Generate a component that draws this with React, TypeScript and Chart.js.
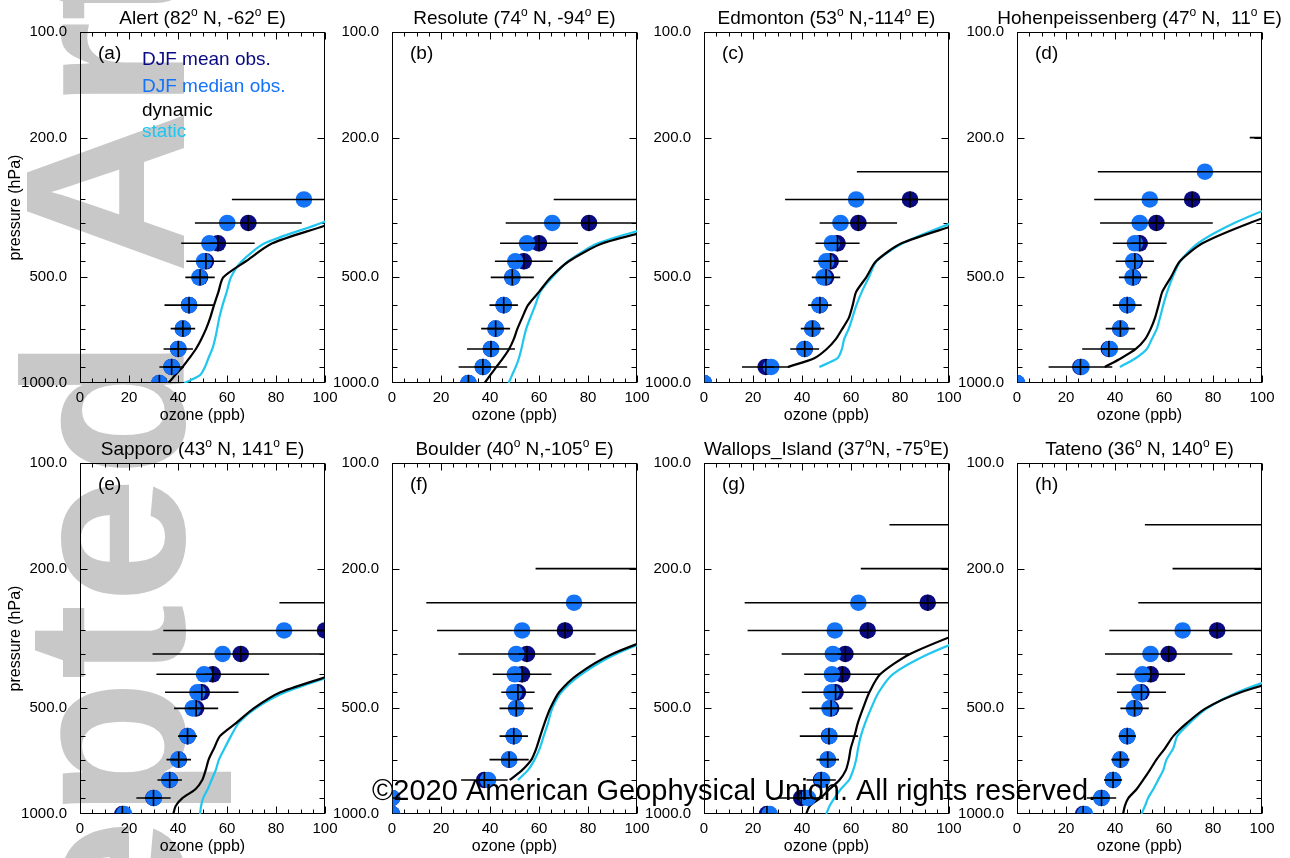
import React, { useEffect, useRef } from "react";
import { Chart, registerables } from "chart.js";

Chart.register(...registerables);

const W = 1290;
const H = 858;
const FONT = "'Liberation Sans', Arial, Helvetica, sans-serif";
const DARK = "#0a0a82";
const LIGHT = "#1473f7";
const CYAN = "#1ec6f0";
const GREY = "#c8c8c8";

// ---------- data ----------
const OBS_P = [150, 200, 250, 300, 350, 400, 450, 500, 600, 700, 800, 900, 1000];
const LINE_P = [1000, 950, 900, 850, 800, 750, 700, 650, 600, 550, 500, 450, 400, 350, 300];
const X_TICKS = [0, 20, 40, 60, 80, 100];
const Y_TICKS = [100, 200, 500, 1000];
const Y_MINOR = [200, 300, 350, 400, 450, 500, 600, 700, 800, 900];

// (a) Alert
const alertMean = [null, null, null, 105, 68.7, 56.3, 51.4, 49, 44.5, 42, 40.1, 37.4, 32.4];
const alertMedian = [null, null, null, 91.4, 60.1, 52.8, 50.6, 48.7, 44.5, 42, 40.1, 37.4, 32.4];
const alertSd = [null, null, null, 43, 21.8, 15, 8, 6, 10, 5, 6, 5, 3];
const alertDyn = [36.1, 38.8, 41.9, 44.6, 47.3, 49.5, 51.5, 53.2, 54.7, 56.5, 58.5, 67.7, 78.5, 103, 125];
const alertSta = [42.6, 49, 51, 52.4, 54, 55.1, 56, 56.9, 58.2, 59.9, 61.6, 66, 75.4, 98.5, 120];

// (b) Resolute
const resoluteMean = [null, null, null, 110, 80.4, 60, 53.8, 49.1, 45.6, 42.3, 40.4, 37.1, 31.2];
const resoluteMedian = [null, null, null, 106, 65.4, 55.1, 50.3, 49.1, 45.6, 42.3, 40.4, 37.1, 31.2];
const resoluteSd = [null, null, null, 44, 34, 15.9, 11.8, 8.8, 5.8, 5.9, 9.8, 9.9, 10];
const resoluteDyn = [37.8, 40.1, 42.6, 45.3, 47.8, 49.7, 51.2, 53.2, 55.5, 60, 64.8, 72.2, 86.1, 117, 140];
const resoluteSta = [47.6, 49, 50.5, 51.8, 52.8, 53.7, 54.8, 56.5, 58.5, 60.5, 65.4, 71.8, 84.1, 111, 135];

// (c) Edmonton
const edmontonMean = [null, null, 108, 84.1, 63, 54.5, 51.7, 49.8, 47.3, 44.3, 41.1, 25.2, 0];
const edmontonMedian = [null, null, 104, 62.1, 55.7, 52.2, 49.9, 48.8, 47.1, 44.2, 41, 27.4, 0];
const edmontonSd = [null, null, 45.6, 51, 15.8, 9, 7, 5.8, 4.8, 4.8, 5.9, 9.7, 0];
const edmontonDyn = [null, null, 34.2, 45, 50.1, 53.8, 56.5, 59.2, 60.7, 62.1, 66.2, 70.2, 80.6, 105, 130];
const edmontonSta = [null, null, 47.1, 54.5, 56.3, 57.2, 59.1, 60.6, 62.2, 64.4, 67.3, 70.4, 81.1, 101, 125];

// (d) Hohenpeissenberg
const hohenMean = [null, 110, 106, 71.5, 56.9, 50.1, 48.1, 47.4, 45, 42.2, 37.5, 25.9, 0];
const hohenMedian = [null, 107, 76.7, 54.2, 50.1, 48.1, 47.4, 47.1, 45, 42.2, 37.9, 26.3, 0];
const hohenSd = [null, 15, 73, 40, 23, 11, 7.8, 5.8, 5.9, 6, 10.9, 13, 0];
const hohenDyn = [null, null, 35.8, 42.5, 48.5, 52.3, 54.6, 56.4, 57.8, 59.3, 62.8, 66.5, 75.7, 95, 122];
const hohenSta = [null, null, 42, 48.4, 53, 55, 57.1, 58.4, 59.7, 61.3, 63.5, 66.6, 73.8, 88.7, 111.6];

// (e) Sapporo
const sapporoMean = [null, null, 110, 100, 65.6, 54.2, 49.7, 47.4, 43.9, 40.3, 36.6, 30, 17.3];
const sapporoMedian = [null, null, 106, 83.3, 58.2, 50.6, 47.9, 46, 43.9, 40.1, 36.5, 30.2, 18];
const sapporoSd = [null, null, 28.6, 66, 36, 23, 15, 9, 3.9, 5, 5, 7, 2];
const sapporoDyn = [38.1, 39, 41.9, 47.1, 49.9, 51.3, 52.5, 54.7, 57.1, 63.8, 70.9, 81.8, 104, 130, 150];
const sapporoSta = [49, 49.4, 50.3, 52.1, 53.7, 55.4, 56.7, 59, 61.6, 64.8, 71.7, 83.7, 105, 130, 150];

// (f) Boulder
const boulderMean = [null, 112, 106, 70.6, 55.1, 53.1, 51.4, 50.7, 49.7, 47.8, 37.7, 0, 0];
const boulderMedian = [null, 108, 74.3, 53.1, 50.7, 50.1, 49.8, 50.7, 49.7, 47.8, 39.2, 0, 0];
const boulderSd = [null, 53.4, 92, 52.2, 28, 12, 6.8, 6.8, 5.8, 8, 9.5, 0, 0];
const boulderDyn = [null, null, null, null, 48, 53.1, 56.9, 58.9, 60.5, 62.3, 64.6, 68.2, 75.9, 89.9, 114.7];
const boulderSta = [null, null, null, null, 51.4, 55.5, 58.2, 60.3, 61.9, 63.7, 65.4, 69.1, 77.3, 91.4, 115];

// (g) Wallops Island
const wallopsMean = [115, 112, 91.3, 66.8, 57.7, 56.5, 53.7, 51.9, 51, 50.5, 47.8, 39.7, 25.7];
const wallopsMedian = [110, 108, 63, 53.4, 52.6, 52.2, 52, 51.2, 51.2, 50.5, 48.2, 42.4, 26.8];
const wallopsSd = [39.3, 48, 74.7, 49, 26, 15.6, 13.8, 8.8, 11.9, 4.6, 6, 9, 8];
const wallopsDyn = [41.7, 43.1, 47.6, 51.2, 55.3, 57.9, 59.1, 59.9, 61.4, 62.8, 64.9, 67.5, 71.9, 84.1, 106.9];
const wallopsSta = [49.9, 51.2, 53.3, 55.8, 59.2, 60.9, 62.1, 62.9, 64, 65.8, 68.2, 71.3, 77, 91.6, 115];

// (h) Tateno
const tatenoMean = [115, 112, 108, 81.7, 61.9, 54.6, 50.8, 48, 45, 42.2, 39.2, 34.5, 27];
const tatenoMedian = [110, 108, 104, 67.6, 54.5, 51.2, 49.9, 47.7, 45, 42.2, 39.2, 34.5, 27.7];
const tatenoSd = [62.8, 48.5, 58.5, 44, 26, 14, 10, 5.8, 3.5, 3.7, 3.7, 6, 2];
const tatenoDyn = [43.3, 44, 45.5, 48.8, 51.5, 54.2, 56.9, 60.4, 63.8, 69.4, 77, 91.4, 115.7, 140, 160];
const tatenoSta = [50.8, 52.2, 53.5, 55.6, 57.6, 59.7, 61, 63.8, 65.4, 70.5, 77.5, 90, 110, 135, 155];

const LEGEND = [
  { text: "DJF mean obs.", color: DARK },
  { text: "DJF median obs.", color: LIGHT },
  { text: "dynamic", color: "#000" },
  { text: "static", color: CYAN },
];

const PANELS = [
  { title: "Alert (82^o N, -62^o E)", tag: "(a)", col: 0, row: 0, mean: alertMean, median: alertMedian, sd: alertSd, dyn: alertDyn, sta: alertSta },
  { title: "Resolute (74^o N, -94^o E)", tag: "(b)", col: 1, row: 0, mean: resoluteMean, median: resoluteMedian, sd: resoluteSd, dyn: resoluteDyn, sta: resoluteSta },
  { title: "Edmonton (53^o N,-114^o E)", tag: "(c)", col: 2, row: 0, mean: edmontonMean, median: edmontonMedian, sd: edmontonSd, dyn: edmontonDyn, sta: edmontonSta },
  { title: "Hohenpeissenberg (47^o N,  11^o E)", tag: "(d)", col: 3, row: 0, mean: hohenMean, median: hohenMedian, sd: hohenSd, dyn: hohenDyn, sta: hohenSta },
  { title: "Sapporo (43^o N, 141^o E)", tag: "(e)", col: 0, row: 1, mean: sapporoMean, median: sapporoMedian, sd: sapporoSd, dyn: sapporoDyn, sta: sapporoSta },
  { title: "Boulder (40^o N,-105^o E)", tag: "(f)", col: 1, row: 1, mean: boulderMean, median: boulderMedian, sd: boulderSd, dyn: boulderDyn, sta: boulderSta },
  { title: "Wallops_Island (37^oN, -75^oE)", tag: "(g)", col: 2, row: 1, mean: wallopsMean, median: wallopsMedian, sd: wallopsSd, dyn: wallopsDyn, sta: wallopsSta },
  { title: "Tateno (36^o N, 140^o E)", tag: "(h)", col: 3, row: 1, mean: tatenoMean, median: tatenoMedian, sd: tatenoSd, dyn: tatenoDyn, sta: tatenoSta },
];

// ---------- layout ----------
const COL_LEFT = [80, 392, 704, 1017];
const ROW_TOP = [32, 463];
const PW = 245;
const PH = 351;
const YW = 60;
const XH = 40;
const LEGEND_Y = [33, 60, 84, 105];

function drawRich(ctx: CanvasRenderingContext2D, str: string, cx: number, baseY: number, size: number) {
  const parts = str.split("^o");
  const segs: { t: string; sup: boolean; w?: number }[] = [];
  parts.forEach((p, i) => {
    if (i > 0) segs.push({ t: "o", sup: true });
    segs.push({ t: p, sup: false });
  });
  const fBase = `${size}px ${FONT}`;
  const fSup = `${Math.round(size * 0.62)}px ${FONT}`;
  let total = 0;
  segs.forEach((s) => {
    ctx.font = s.sup ? fSup : fBase;
    s.w = ctx.measureText(s.t).width;
    total += s.w;
  });
  let x = cx - total / 2;
  ctx.textAlign = "left";
  ctx.textBaseline = "alphabetic";
  segs.forEach((s) => {
    ctx.font = s.sup ? fSup : fBase;
    ctx.fillText(s.t, x, s.sup ? baseY - size * 0.4 : baseY);
    x += s.w || 0;
  });
}

function drawWatermark(ctx: CanvasRenderingContext2D) {
  ctx.save();
  ctx.font = `bold 228px ${FONT}`;
  ctx.fillStyle = GREY;
  const pre = ctx.measureText("Accepted ").width;
  const aw = ctx.measureText("A").width;
  ctx.translate(184, 192 + pre + aw / 2);
  ctx.rotate(-Math.PI / 2);
  ctx.textAlign = "left";
  ctx.textBaseline = "alphabetic";
  ctx.fillText("Accepted Article", 0, 0);
  ctx.restore();
}

function drawCopyright(ctx: CanvasRenderingContext2D) {
  ctx.save();
  ctx.font = `29px ${FONT}`;
  ctx.fillStyle = "#000";
  ctx.textAlign = "left";
  ctx.textBaseline = "alphabetic";
  ctx.fillText("\u00A92020 American Geophysical Union. All rights reserved.", 372, 800);
  ctx.restore();
}

function seg(ctx: CanvasRenderingContext2D, x1: number, y1: number, x2: number, y2: number) {
  ctx.beginPath();
  ctx.moveTo(x1, y1);
  ctx.lineTo(x2, y2);
  ctx.stroke();
}

function makeConfig(panel: any, idx: number): any {
  const L = COL_LEFT[panel.col];
  const T = ROW_TOP[panel.row];
  const pts = (vals: (number | null)[]) =>
    OBS_P.map((p, i) => ({ x: vals[i], y: p })).filter((d) => d.x !== null);
  const line = (vals: (number | null)[]) =>
    LINE_P.map((p, i) => ({ x: vals[i], y: p })).filter((d) => d.x !== null);
  const bars: any[] = [];
  OBS_P.forEach((p, i) => {
    const m = panel.mean[i];
    const s = panel.sd[i];
    if (m === null || s === null) return;
    bars.push({ x: m - s, y: p }, { x: m + s, y: p }, { x: null, y: null });
  });

  const decor = {
    id: "decor" + idx,
    beforeDraw(chart: any) {
      if (idx === 0) drawWatermark(chart.ctx);
    },
    beforeDatasetsDraw(chart: any) {
      const ctx = chart.ctx as CanvasRenderingContext2D;
      const { left, right, top, bottom } = chart.chartArea;
      const xs = chart.scales.x;
      const ys = chart.scales.y;
      ctx.save();
      ctx.strokeStyle = "#000";
      ctx.lineWidth = 1;
      const l = Math.round(left) + 0.5;
      const r = Math.round(right) - 0.5;
      const t = Math.round(top) + 0.5;
      const b = Math.round(bottom) - 0.5;
      ctx.strokeRect(l, t, r - l, b - t);
      for (let v = 0; v <= 100; v += 5) {
        const px = Math.round(xs.getPixelForValue(v)) + 0.5;
        const len = v % 20 === 0 ? 7 : 4;
        seg(ctx, px, b, px, b - len);
        seg(ctx, px, t, px, t + len);
      }
      Y_MINOR.forEach((p) => {
        const py = Math.round(ys.getPixelForValue(p)) + 0.5;
        const len = p === 200 || p === 500 ? 7 : 5;
        seg(ctx, l, py, l + len, py);
        seg(ctx, r, py, r - len, py);
      });
      ctx.restore();
    },
    afterDraw(chart: any) {
      const ctx = chart.ctx as CanvasRenderingContext2D;
      const { left, right, top, bottom } = chart.chartArea;
      const cx = (left + right) / 2;
      ctx.save();
      ctx.fillStyle = "#000";
      drawRich(ctx, panel.title, cx, top - 8, 19);
      ctx.font = `19px ${FONT}`;
      ctx.textAlign = "left";
      ctx.textBaseline = "alphabetic";
      ctx.fillText(panel.tag, left + 18, top + 27);
      ctx.font = `16px ${FONT}`;
      ctx.textAlign = "center";
      ctx.textBaseline = "middle";
      ctx.fillText("ozone (ppb)", cx, bottom + 33);
      if (panel.col === 0) {
        ctx.save();
        ctx.translate(16, (top + bottom) / 2);
        ctx.rotate(-Math.PI / 2);
        ctx.fillText("pressure (hPa)", 0, 0);
        ctx.restore();
      }
      if (idx === 0) {
        ctx.font = `19px ${FONT}`;
        ctx.textAlign = "left";
        ctx.textBaseline = "alphabetic";
        LEGEND.forEach((e, i) => {
          ctx.fillStyle = e.color;
          ctx.fillText(e.text, left + 62, top + LEGEND_Y[i]);
        });
      }
      ctx.restore();
      if (idx === PANELS.length - 1) drawCopyright(ctx);
    },
  };

  return {
    type: "scatter",
    data: {
      datasets: [
        { label: "static", data: line(panel.sta), showLine: true, borderColor: CYAN, borderWidth: 2.2, pointRadius: 0, tension: 0.25, order: 6, clip: 0 },
        { label: "dynamic", data: line(panel.dyn), showLine: true, borderColor: "#000", borderWidth: 2.2, pointRadius: 0, tension: 0.25, order: 5, clip: 0 },
        { label: "DJF mean obs.", data: pts(panel.mean), pointRadius: 8.3, pointBackgroundColor: DARK, pointBorderWidth: 0, order: 4, clip: 0 },
        { label: "DJF median obs.", data: pts(panel.median), pointRadius: 8.3, pointBackgroundColor: LIGHT, pointBorderWidth: 0, order: 3, clip: 0 },
        { label: "sd", data: bars, showLine: true, borderColor: "#000", borderWidth: 1.6, pointRadius: 0, spanGaps: false, order: 2, clip: 0 },
        { label: "mean mark", data: pts(panel.mean), pointStyle: "cross", pointRadius: 8, pointBorderColor: "#000", pointBorderWidth: 1.6, order: 1, clip: 0 },
      ],
    },
    options: {
      animation: false,
      responsive: false,
      maintainAspectRatio: false,
      devicePixelRatio: 1,
      events: [],
      layout: {
        padding: {
          left: L - YW,
          top: T,
          right: W - (L + PW),
          bottom: H - (T + PH) - XH,
        },
      },
      plugins: { legend: { display: false }, tooltip: { enabled: false }, title: { display: false } },
      scales: {
        x: {
          type: "linear",
          min: 0,
          max: 100,
          grid: { display: false, drawTicks: false },
          border: { display: false },
          afterFit: (s: any) => { s.height = XH; },
          afterBuildTicks: (s: any) => { s.ticks = X_TICKS.map((v) => ({ value: v })); },
          ticks: {
            autoSkip: false,
            maxRotation: 0,
            padding: 6,
            color: "#000",
            font: { family: FONT, size: 15 },
            callback: (v: any) => String(v),
          },
        },
        y: {
          type: "logarithmic",
          min: 100,
          max: 1000,
          reverse: true,
          grid: { display: false, drawTicks: false },
          border: { display: false },
          afterFit: (s: any) => { s.width = YW; },
          afterBuildTicks: (s: any) => { s.ticks = Y_TICKS.map((v) => ({ value: v })); },
          ticks: {
            autoSkip: false,
            padding: 13,
            color: "#000",
            font: { family: FONT, size: 15 },
            callback: (v: any) => Number(v).toFixed(1),
          },
        },
      },
    },
    plugins: [decor],
  };
}

export default function App() {
  const refs = useRef<(HTMLCanvasElement | null)[]>([]);
  useEffect(() => {
    const charts = PANELS.map((panel, i) => new Chart(refs.current[i] as HTMLCanvasElement, makeConfig(panel, i)));
    return () => charts.forEach((c) => c.destroy());
  }, []);
  return (
    <div style={{ position: "absolute", left: 0, top: 0, width: W, height: H, background: "#fff", overflow: "hidden" }}>
      {PANELS.map((p, i) => (
        <canvas
          key={i}
          ref={(el) => { refs.current[i] = el; }}
          width={W}
          height={H}
          style={{ position: "absolute", left: 0, top: 0, width: W, height: H }}
        />
      ))}
    </div>
  );
}
